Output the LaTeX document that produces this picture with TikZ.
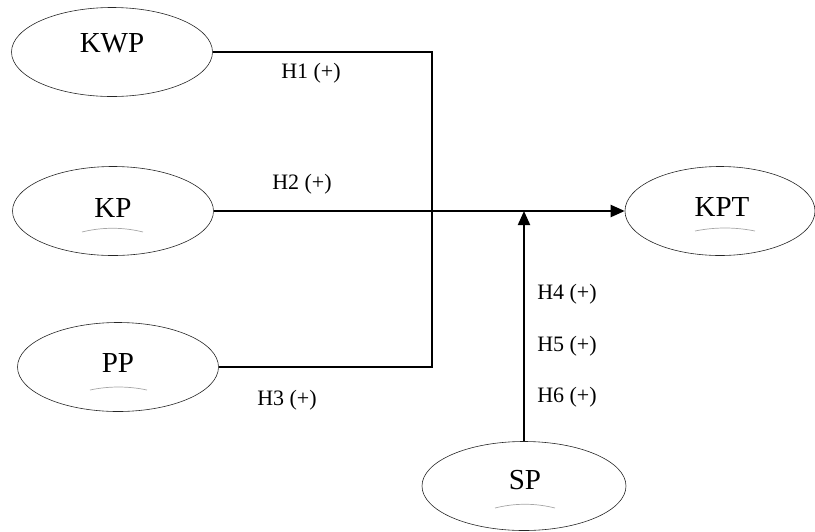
\documentclass[tikz,border=0pt]{standalone}
\usepackage{fontspec}
\setmainfont{Liberation Serif}
\usetikzlibrary{shapes.geometric,arrows.meta}
\begin{document}
\begin{tikzpicture}[x=1pt,y=-1pt,
  var/.style={ellipse,draw=black!85,line width=0.6pt,minimum width=201pt,minimum height=89pt,inner sep=0pt},
  vtext/.style={font=\fontsize{29}{30}\selectfont,inner sep=0pt},
  htext/.style={font=\fontsize{22}{24}\selectfont,inner sep=0pt},
  conn/.style={line width=2pt},
  tip/.style={-{Triangle[length=14pt,width=12pt]}},
  smudge/.style={black!35,line width=0.7pt}]
\useasboundingbox (0,0) rectangle (815,531);
% variables
\node[var] (kwp) at (112,52) {};
\node[var] (kp) at (113,211) {};
\node[var] (pp) at (118,367) {};
\node[var,minimum width=190pt] (kpt) at (720,211) {};
\node[var,minimum width=204pt] (sp) at (524,486) {};
\node[vtext] (tkwp) at (112,43) {KWP};
\node[vtext] (tkp) at (113,208) {KP};
\node[vtext] (tpp) at (118,363) {PP};
\node[vtext] (tkpt) at (722,207) {KPT};
\node[vtext] (tsp) at (525,480) {SP};
% faint marks
\draw[smudge] (82,232) .. controls (102,227) and (123,227) .. (143,232);
\draw[smudge] (90,390) .. controls (109,386) and (128,386) .. (147,390);
\draw[smudge] (695,231) .. controls (715,227) and (735,227) .. (755,231);
\draw[smudge] (495,508) .. controls (515,503) and (535,503) .. (555,508);
% connectors
\coordinate (j1) at (432,52);
\coordinate (j3) at (432,367);
\coordinate (m) at (524,211);
\draw[conn] (kwp.east) -- (j1) -- (j3) -- (pp.east);
\draw[conn,tip] (kp.east) -- (kpt.west);
\draw[conn,tip] (sp.north) -- (m);
% labels
\node[htext] (h1) at (311,73) {H1 (+)};
\node[htext] (h2) at (302,184) {H2 (+)};
\node[htext] (h3) at (287,400) {H3 (+)};
\node[htext] (h4) at (567,294) {H4 (+)};
\node[htext] (h5) at (567,346) {H5 (+)};
\node[htext] (h6) at (567,397) {H6 (+)};
\end{tikzpicture}
\end{document}
